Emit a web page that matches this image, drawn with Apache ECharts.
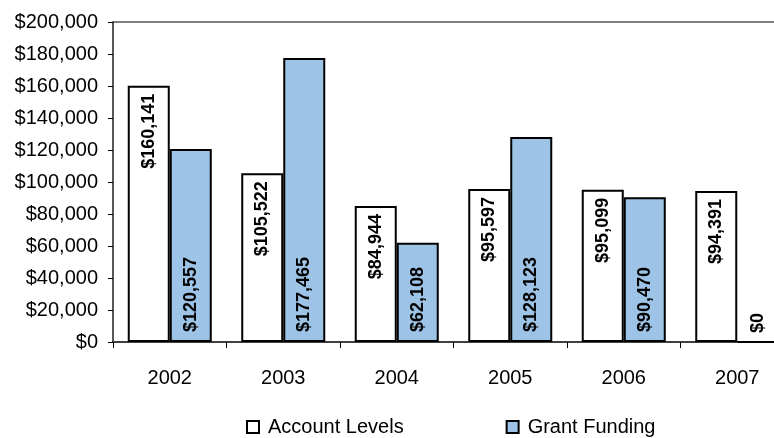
<!DOCTYPE html>
<html>
<head>
<meta charset="utf-8">
<script src="https://cdn.jsdelivr.net/npm/echarts@6/dist/echarts.min.js"></script>
<style>
  html, body { margin: 0; padding: 0; background: #fff; }
  #chart { width: 774px; height: 438px; }
</style>
</head>
<body>
<div id="chart"></div>
<script>
// Yearly account levels versus grant funding
const years = ['2002', '2003', '2004', '2005', '2006', '2007'];
const accountLevels = [160141, 105522, 84944, 95597, 95099, 94391];
const grantFunding = [120557, 177465, 62108, 128123, 90470, 0];
const seriesNames = ['Account Levels', 'Grant Funding'];

const FONT = 'Liberation Sans, Arial, sans-serif';

function money(v) {
  return '$' + String(Math.round(v)).replace(/\B(?=(\d{3})+(?!\d))/g, ',');
}

const chart = echarts.init(document.getElementById('chart'));

// 11 split lines (0..200,000): only the top one is drawn, as the plot's upper border
const splitColors = [];
for (let i = 0; i < 10; i++) splitColors.push('rgba(0,0,0,0)');
splitColors.push('#808080');

chart.setOption({
  animation: false,
  backgroundColor: '#ffffff',
  grid: {
    left: 113, top: 22, width: 681, bottom: 96,
    containLabel: false,
    outerBoundsMode: 'none'
  },
  legend: {
    bottom: -4,
    left: 241,
    itemWidth: 12,
    itemHeight: 12,
    itemGap: 102,
    icon: 'rect',
    textStyle: { fontFamily: FONT, fontSize: 20, color: '#000', padding: [0, 0, 0, 4] },
    itemStyle: { borderColor: '#000', borderWidth: 2 },
    data: seriesNames
  },
  xAxis: {
    type: 'category',
    data: years,
    axisLine: { lineStyle: { color: '#404040', width: 2 } },
    axisTick: { show: true, length: 6, alignWithLabel: false, lineStyle: { color: '#000', width: 1 } },
    axisLabel: { fontFamily: FONT, fontSize: 20, color: '#000', margin: 26 },
    splitLine: { show: false }
  },
  yAxis: {
    type: 'value',
    min: 0,
    max: 200000,
    interval: 20000,
    axisLine: { show: true, lineStyle: { color: '#202020', width: 1.5 } },
    axisTick: { show: true, length: 5, lineStyle: { color: '#000', width: 1 } },
    axisLabel: {
      fontFamily: FONT, fontSize: 20, color: '#000', margin: 15,
      formatter: v => money(v)
    },
    splitLine: { show: true, lineStyle: { color: splitColors, width: 2 } }
  },
  series: [
    {
      name: seriesNames[0],
      type: 'bar',
      data: accountLevels,
      barWidth: 42,
      barGap: '0%',
      itemStyle: { color: '#ffffff', borderColor: '#000', borderWidth: 2 },
      label: {
        show: true,
        position: 'insideTop',
        rotate: 90,
        align: 'right',
        verticalAlign: 'middle',
        distance: 8,
        fontFamily: FONT,
        fontWeight: 'bold',
        fontSize: 18,
        color: '#000',
        formatter: p => money(p.value)
      }
    },
    {
      name: seriesNames[1],
      type: 'bar',
      data: grantFunding,
      barWidth: 42,
      itemStyle: { color: '#9dc3e6', borderColor: '#000', borderWidth: 2 },
      label: {
        show: true,
        position: 'insideBottom',
        rotate: 90,
        align: 'left',
        verticalAlign: 'middle',
        distance: 10,
        fontFamily: FONT,
        fontWeight: 'bold',
        fontSize: 18,
        color: '#000',
        formatter: p => money(p.value)
      }
    }
  ]
});
</script>
</body>
</html>
